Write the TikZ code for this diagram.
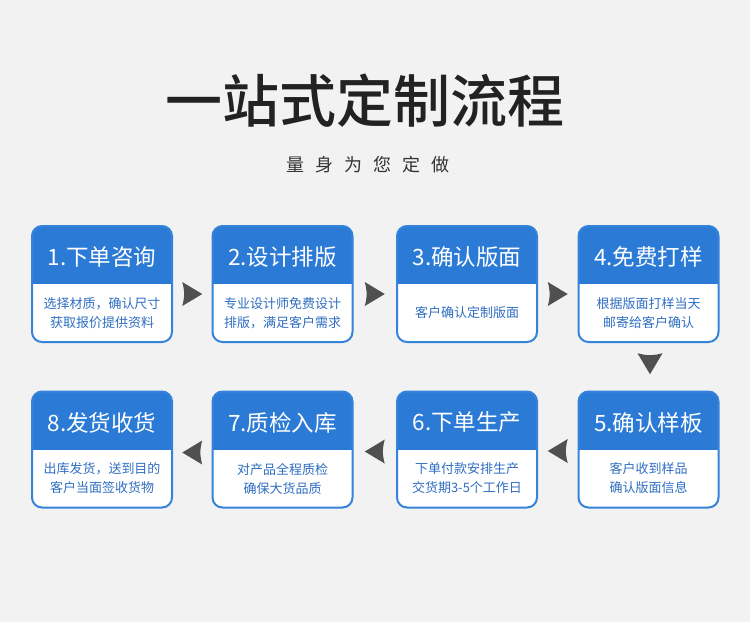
\documentclass[tikz,border=0pt]{standalone}
\usepackage{fontspec}
\setmainfont{Noto Sans CJK SC}
\newfontfamily\titlefont{Noto Sans CJK SC Medium}
\usetikzlibrary{calc}
\definecolor{bgc}{HTML}{F2F2F2}
\definecolor{hdrc}{HTML}{2B7BD6}
\definecolor{bordc}{HTML}{3583DA}
\definecolor{bodyc}{HTML}{2F6EC2}
\definecolor{arrc}{HTML}{505050}
\definecolor{titlec}{HTML}{222222}
\definecolor{subc}{HTML}{333333}
\tikzset{
  boxshape/.style={minimum width=140pt, minimum height=116pt, inner sep=0pt, outer sep=0pt},
  titletext/.style={text=white, font=\fontsize{22.5}{22.5}\selectfont, inner sep=0pt},
  bodytext/.style={text=bodyc, font=\fontsize{13}{19}\selectfont, align=center, inner sep=0pt},
  borderline/.style={draw=bordc, line width=2pt},
  chev/.style={fill=arrc},
}
\newcommand\mkbox[5]{%
  \node[boxshape] (#1) at (#2,#3) {};
  \fill[white, rounded corners=10pt] (#1.north west) rectangle (#1.south east);
  \begin{scope}
    \clip[rounded corners=10pt] (#1.north west) rectangle (#1.south east);
    \fill[hdrc] (#1.north west) rectangle ([yshift=-58pt]#1.north east);
  \end{scope}
  \draw[borderline, rounded corners=10pt] (#1.north west) rectangle (#1.south east);
  \node[titletext] (#1t) at ([yshift=-31pt]#1.north) {#4};
  \node[bodytext] (#1d) at ([yshift=29pt]#1.south) {#5};
}
\newcommand\arrR[1]{%
  \fill[chev] ($(#1)+(10,0)$) -- ($(#1)+(-10,-12)$) .. controls ($(#1)+(-7.5,-3)$) and ($(#1)+(-7.5,3)$) .. ($(#1)+(-10,12)$) -- cycle;}
\newcommand\arrL[1]{%
  \fill[chev] ($(#1)+(-10,0)$) -- ($(#1)+(10,-12)$) .. controls ($(#1)+(7.5,-3)$) and ($(#1)+(7.5,3)$) .. ($(#1)+(10,12)$) -- cycle;}
\newcommand\arrD[1]{%
  \fill[chev] ($(#1)+(0,10.5)$) -- ($(#1)+(-12.5,-10.5)$) .. controls ($(#1)+(-3,-8)$) and ($(#1)+(3,-8)$) .. ($(#1)+(12.5,-10.5)$) -- cycle;}
\begin{document}
\begin{tikzpicture}[x=1pt,y=-1pt]
\fill[bgc] (0,0) rectangle (750,622);
\useasboundingbox (0,0) rectangle (750,622);

\node[text=titlec, font=\fontsize{57}{57}\selectfont\titlefont, inner sep=0pt] (title) at (365,101) {一站式定制流程};
\node[text=subc, font=\fontsize{18}{18}\selectfont, inner sep=0pt] (sub) at (368,165)
  {量\hspace{11pt}身\hspace{11pt}为\hspace{11pt}您\hspace{11pt}定\hspace{11pt}做};

\mkbox{b1}{102}{284}{1.下单咨询}{选择材质，确认尺寸\\获取报价提供资料}
\mkbox{b2}{282.5}{284}{2.设计排版}{专业设计师免费设计\\排版，满足客户需求}
\mkbox{b3}{467}{284}{3.确认版面}{客户确认定制版面}
\mkbox{b4}{648.5}{284}{4.免费打样}{根据版面打样当天\\邮寄给客户确认}
\mkbox{b5}{648.5}{449.5}{5.确认样板}{客户收到样品\\确认版面信息}
\mkbox{b6}{467}{449.5}{6.下单生产}{下单付款安排生产\\交货期3-5个工作日}
\mkbox{b7}{282.5}{449.5}{7.质检入库}{对产品全程质检\\确保大货品质}
\mkbox{b8}{102}{449.5}{8.发货收货}{出库发货，送到目的\\客户当面签收货物}

\path ($(b1.east)!0.5!(b2.west)$) ++(0,10) coordinate (a12);
\path ($(b2.east)!0.5!(b3.west)$) ++(0,10) coordinate (a23);
\path ($(b3.east)!0.5!(b4.west)$) ++(0,10) coordinate (a34);
\path ($(b4.south)!0.5!(b5.north)$) ++(1.5,-3) coordinate (a45);
\path ($(b5.west)!0.5!(b6.east)$) ++(0,1.5) coordinate (a56);
\path ($(b6.west)!0.5!(b7.east)$) ++(0,2) coordinate (a67);
\path ($(b7.west)!0.5!(b8.east)$) ++(0,3) coordinate (a78);
\arrR{a12}
\arrR{a23}
\arrR{a34}
\arrD{a45}
\arrL{a56}
\arrL{a67}
\arrL{a78}
\end{tikzpicture}
\end{document}
